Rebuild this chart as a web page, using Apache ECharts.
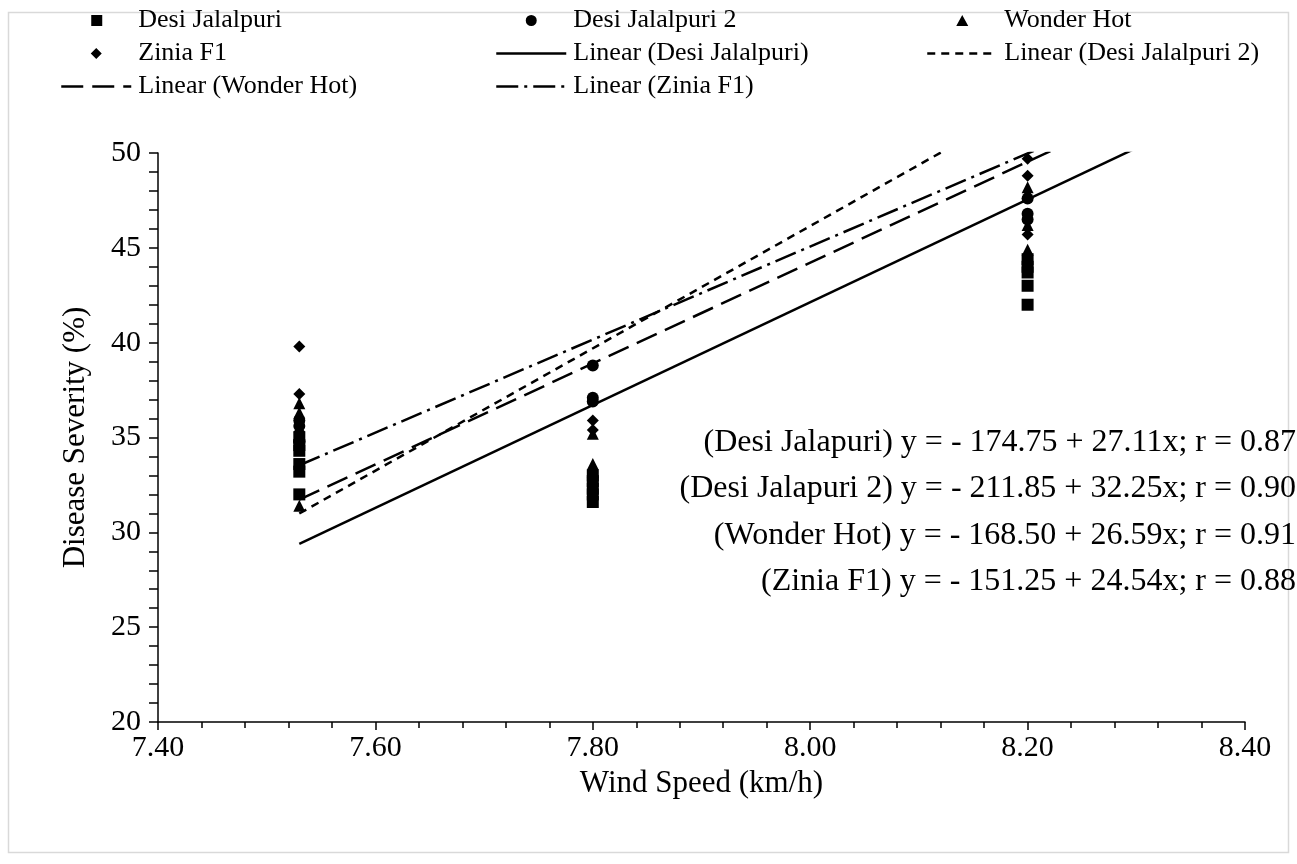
<!DOCTYPE html>
<html>
<head>
<meta charset="utf-8">
<title>Disease Severity vs Wind Speed</title>
<script src="https://cdn.jsdelivr.net/npm/echarts@6/dist/echarts.min.js"></script>
<style>
    html, body { margin: 0; padding: 0; background: #fff; }
    #chart { width: 1297px; height: 864px; }
</style>
</head>
<body>
<div id="chart"></div>
<script>
// 风速 (x) 三个观测点
var windSpeeds = [7.53, 7.80, 8.20];

// 每个品种在每个风速下的病情严重度 (%)
var desiJalalpuri = [
    [35.0, 34.6, 34.3, 33.6, 33.2, 32.0],
    [33.0, 32.7, 32.3, 32.0, 31.6],
    [44.4, 44.0, 43.7, 43.0, 42.0]
];
var desiJalalpuri2 = [
    [35.9, 35.6, 34.8],
    [38.8, 37.1, 36.9],
    [47.6, 46.8, 46.5]
];
var wonderHot = [
    [36.8, 36.3, 31.4],
    [33.6, 33.2, 35.2],
    [48.2, 47.9, 46.2, 44.9]
];
var ziniaF1 = [
    [39.8, 37.3, 35.3],
    [35.9, 35.4],
    [49.7, 48.8, 45.7]
];

// 趋势线 y = a + b x
var trendNames = ["Linear (Desi Jalalpuri)", "Linear (Desi Jalalpuri 2)", "Linear (Wonder Hot)", "Linear (Zinia F1)"];
var trendA = [-174.75, -211.85, -168.50, -151.25];
var trendB = [27.11, 32.25, 26.59, 24.54];
var trendR = [0.87, 0.90, 0.91, 0.88];
var trendLabels = ["Desi Jalapuri", "Desi Jalapuri 2", "Wonder Hot", "Zinia F1"];
var trendRange = [7.53, 8.30];

var xTicks = { min: 7.4, max: 8.4, interval: 0.2 };
var yTicks = { min: 20, max: 50, interval: 5 };

var FONT = "Liberation Serif";

function toPoints(groups) {
    var pts = [];
    groups.forEach(function (vals, i) {
        vals.forEach(function (v) { pts.push([windSpeeds[i], v]); });
    });
    return pts;
}

function trendLine(i) {
    return trendRange.map(function (x) { return [x, trendA[i] + trendB[i] * x]; });
}

var chart = echarts.init(document.getElementById("chart"));

var scatterStyle = { color: "#000", opacity: 1 };
var dashes = ["solid", [8, 6], [22, 9], [22, 6, 3, 6]];

var series = [
    { name: "Desi Jalalpuri", type: "scatter", symbol: "rect", symbolSize: 12, data: toPoints(desiJalalpuri) },
    { name: "Desi Jalalpuri 2", type: "scatter", symbol: "circle", symbolSize: 12, data: toPoints(desiJalalpuri2) },
    { name: "Wonder Hot", type: "scatter", symbol: "triangle", symbolSize: 12, data: toPoints(wonderHot) },
    { name: "Zinia F1", type: "scatter", symbol: "diamond", symbolSize: 12, data: toPoints(ziniaF1) }
];
series.forEach(function (s) {
    s.itemStyle = scatterStyle;
});
trendNames.forEach(function (name, i) {
    series.push({
        name: name,
        type: "line",
        data: trendLine(i),
        symbol: "none",
        clip: true,
        silent: true,
        lineStyle: { color: "#000", width: 2.5, type: dashes[i] },
        itemStyle: { color: "#000" }
    });
});

// 方程文字
var eqTexts = trendLabels.map(function (lab, i) {
    return "(" + lab + ") y = - " + (-trendA[i]).toFixed(2) + " + " + trendB[i].toFixed(2) + "x; r = " + trendR[i].toFixed(2);
});
var eqY = [445, 491, 538, 584];

// 图例图标：标记居中在 70px 宽的区域里（两端用极短的线段撑开范围）
var legendIcons = {
    "Desi Jalalpuri": "path://M0,5.5h0.01M30,0h11v11h-11zM70,5.5h0.01",
    "Desi Jalalpuri 2": "path://M0,5.5h0.01M35,0a5.5,5.5 0 1,1 -0.01,0zM70,5.5h0.01",
    "Wonder Hot": "path://M0,5.5h0.01M35,0L41,11H29zM70,5.5h0.01",
    "Zinia F1": "path://M0,5.5h0.01M35,0L40.5,5.5L35,11L29.5,5.5zM70,5.5h0.01"
};

function legendItem(name) {
    if (legendIcons[name]) {
        return { name: name, icon: legendIcons[name] };
    }
    // 折线的图例不要中间的圆点
    return { name: name, itemStyle: { opacity: 0 } };
}

var legendBase = {
    orient: "vertical",
    top: 4,
    padding: 0,
    itemWidth: 70,
    itemHeight: 11,
    itemGap: 0,
    selectedMode: false,
    textStyle: { fontFamily: FONT, fontSize: 26, lineHeight: 33, color: "#000", padding: [0, 0, 0, 2] },
    lineStyle: { width: 2.5 }
};

var option = {
    backgroundColor: "#fff",
    animation: false,
    legend: [
        Object.assign({}, legendBase, { left: 60, data: ["Desi Jalalpuri", "Zinia F1", "Linear (Wonder Hot)"].map(legendItem) }),
        Object.assign({}, legendBase, { left: 495, data: ["Desi Jalalpuri 2", "Linear (Desi Jalalpuri)", "Linear (Zinia F1)"].map(legendItem) }),
        Object.assign({}, legendBase, { left: 926, data: ["Wonder Hot", "Linear (Desi Jalalpuri 2)"].map(legendItem) })
    ],
    grid: { left: 158, right: 52, top: 153, bottom: 142, containLabel: false },
    xAxis: {
        type: "value",
        min: xTicks.min,
        max: xTicks.max,
        interval: xTicks.interval,
        name: "Wind Speed (km/h)",
        nameLocation: "middle",
        nameGap: 46,
        nameTextStyle: { fontFamily: FONT, fontSize: 31, color: "#000" },
        axisLine: { lineStyle: { color: "#000", width: 1.5 } },
        axisTick: { show: true, inside: false, length: 8, lineStyle: { color: "#000", width: 1.5 } },
        minorTick: { show: true, splitNumber: 5, length: 6, lineStyle: { color: "#000", width: 1.5 } },
        axisLabel: {
            fontFamily: FONT, fontSize: 30, color: "#000", margin: 11,
            formatter: function (v) { return v.toFixed(2); }
        },
        splitLine: { show: false }
    },
    yAxis: {
        type: "value",
        min: yTicks.min,
        max: yTicks.max,
        interval: yTicks.interval,
        name: "Disease Severity (%)",
        nameLocation: "middle",
        nameGap: 67,
        nameTextStyle: { fontFamily: FONT, fontSize: 31, color: "#000" },
        axisLine: { show: true, lineStyle: { color: "#000", width: 1.5 } },
        axisTick: { show: true, length: 9, lineStyle: { color: "#000", width: 1.5 } },
        minorTick: { show: true, splitNumber: 5, length: 9, lineStyle: { color: "#000", width: 1.5 } },
        axisLabel: { fontFamily: FONT, fontSize: 30, color: "#000", margin: 17 },
        splitLine: { show: false }
    },
    graphic: [
        {
            type: "rect",
            shape: { x: 8.5, y: 12.5, width: 1280, height: 840 },
            style: { fill: "none", stroke: "#d9d9d9", lineWidth: 1.5 },
            silent: true,
            z: -1
        }
    ].concat(eqTexts.map(function (t, i) {
        return {
            type: "text",
            right: 1,
            top: eqY[i] - 18,
            style: { text: t, fontFamily: FONT, fontSize: 32, fill: "#000" },
            silent: true
        };
    })),
    series: series
};

chart.setOption(option);
window.addEventListener("resize", function () {
    chart.resize();
});
</script>
</body>
</html>
